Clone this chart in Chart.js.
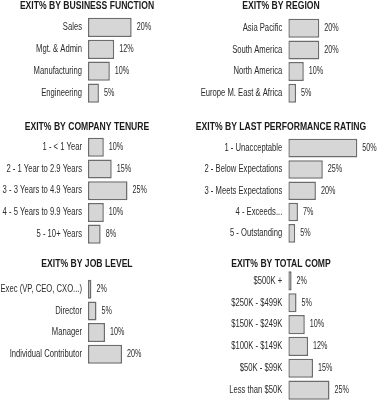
<!DOCTYPE html>
<html>
<head>
<meta charset="utf-8">
<script src="https://cdn.jsdelivr.net/npm/chart.js@4/dist/chart.umd.min.js"></script>
<style>
  html, body { margin: 0; padding: 0; background: #ffffff; overflow: hidden; }
  body { width: 378px; height: 400px; position: relative; }
  canvas { position: absolute; }
</style>
</head>
<body>
<canvas id="c1"></canvas>
<canvas id="c2"></canvas>
<canvas id="c3"></canvas>
<canvas id="c4"></canvas>
<canvas id="c5"></canvas>
<canvas id="c6"></canvas>
<script>
// ---- data ----
const businessTitle = 'EXIT% BY BUSINESS FUNCTION';
const businessCats = ['Sales', 'Mgt. & Admin', 'Manufacturing', 'Engineering'];
const businessVals = [20, 12, 10, 5];

const regionTitle = 'EXIT% BY REGION';
const regionCats = ['Asia Pacific', 'South America', 'North America', 'Europe M. East & Africa'];
const regionVals = [20, 20, 10, 5];

const tenureTitle = 'EXIT% BY COMPANY TENURE';
const tenureCats = ['1 - < 1 Year', '2 - 1 Year to 2.9 Years', '3 - 3 Years to 4.9 Years', '4 - 5 Years to 9.9 Years', '5 - 10+ Years'];
const tenureVals = [10, 15, 25, 10, 8];

const ratingTitle = 'EXIT% BY LAST PERFORMANCE RATING';
const ratingCats = ['1 - Unacceptable', '2 - Below Expectations', '3 - Meets Expectations', '4 - Exceeds...', '5 - Outstanding'];
const ratingVals = [50, 25, 20, 7, 5];

const jobTitle = 'EXIT% BY JOB LEVEL';
const jobCats = ['Exec (VP, CEO, CXO...)', 'Director', 'Manager', 'Individual Contributor'];
const jobVals = [2, 5, 10, 20];

const compTitle = 'EXIT% BY TOTAL COMP';
const compCats = ['$500K +', '$250K - $499K', '$150K - $249K', '$100K - $149K', '$50K - $99K', 'Less than $50K'];
const compVals = [2, 5, 10, 12, 15, 25];

// ---- layout (positions / sizes only) ----
const panels = [
  { id: 'c1', title: businessTitle, cats: businessCats, vals: businessVals, left: 0,   top: -0.5,  width: 174, gap: 4.5, area: 87,    axisW: 88,    xMax: 39.4 },
  { id: 'c2', title: regionTitle,   cats: regionCats,   vals: regionVals,   left: 184, top: -0.5,  width: 194, gap: 5.5, area: 86,    axisW: 104.3, xMax: 57.9 },
  { id: 'c3', title: tenureTitle,   cats: tenureCats,   vals: tenureVals,   left: 0,   top: 120.7, width: 174, gap: 3.3, area: 108.8, axisW: 88,    xMax: 54.4 },
  { id: 'c4', title: ratingTitle,   cats: ratingCats,   vals: ratingVals,   left: 184, top: 120.7, width: 194, gap: 4.5, area: 106.5, axisW: 104.3, xMax: 65 },
  { id: 'c5', title: jobTitle,      cats: jobCats,      vals: jobVals,      left: 0,   top: 258,   width: 174, gap: 8.5, area: 86.8,  axisW: 88,    xMax: 50.6 },
  { id: 'c6', title: compTitle,     cats: compCats,     vals: compVals,     left: 184, top: 258,   width: 194, gap: 0,   area: 131,   axisW: 104.3, xMax: 54.4 }
];

const FONT_FAMILY = "'Liberation Sans', Arial, Helvetica, sans-serif";
const TEXT_COLOR = '#2b2b2b';
const LABEL_SQUEEZE = 0.765;  // emulate a condensed typeface
const TITLE_SQUEEZE = 0.835;
const VALUE_SQUEEZE = 0.72;

// Draw text horizontally condensed around its anchor point.
const condensedText = {
  id: 'condensedText',
  beforeInit(chart) {
    const ctx = chart.ctx;
    const orig = ctx.fillText.bind(ctx);
    ctx.fillText = function (text, x, y, maxWidth) {
      let k = /bold/.test(ctx.font) ? TITLE_SQUEEZE : LABEL_SQUEEZE;
      if (ctx.__squeeze) k = ctx.__squeeze;
      ctx.save();
      ctx.translate(x, y);
      ctx.scale(k, 1);
      if (maxWidth !== undefined) orig(text, 0, 0, maxWidth / k);
      else orig(text, 0, 0);
      ctx.restore();
    };
  }
};

const valueLabels = {
  id: 'valueLabels',
  afterDatasetsDraw(chart) {
    const ctx = chart.ctx;
    const meta = chart.getDatasetMeta(0);
    const data = chart.data.datasets[0].data;
    ctx.save();
    ctx.__squeeze = VALUE_SQUEEZE;
    ctx.font = '10px ' + FONT_FAMILY;
    ctx.fillStyle = TEXT_COLOR;
    ctx.textAlign = 'left';
    ctx.textBaseline = 'middle';
    meta.data.forEach((bar, i) => {
      ctx.fillText(data[i] + '%', bar.x + 5, bar.y);
    });
    ctx.__squeeze = null;
    ctx.restore();
  }
};

panels.forEach(p => {
  const cv = document.getElementById(p.id);
  const h = Math.round(12 + p.gap + p.area);
  cv.width = p.width;
  cv.height = h;
  cv.style.left = p.left + 'px';
  cv.style.top = p.top + 'px';
  cv.style.width = p.width + 'px';
  cv.style.height = h + 'px';

  new Chart(cv, {
    type: 'bar',
    data: {
      labels: p.cats,
      datasets: [{
        data: p.vals,
        backgroundColor: '#d6d6d6',
        borderColor: '#6c6c6c',
        borderWidth: 1.5,
        borderSkipped: false,
        barPercentage: 0.875,
        categoryPercentage: 1
      }]
    },
    options: {
      indexAxis: 'y',
      responsive: false,
      animation: false,
      devicePixelRatio: 1,
      layout: { padding: 0 },
      plugins: {
        legend: { display: false },
        tooltip: { enabled: false },
        title: {
          display: true,
          text: p.title,
          color: '#1a1a1a',
          font: { family: FONT_FAMILY, size: 10.3, weight: 'bold', lineHeight: '12px' },
          padding: { top: 0, bottom: p.gap }
        }
      },
      scales: {
        x: { display: false, min: 0, max: p.xMax },
        y: {
          type: 'category',
          offset: true,
          grid: { display: false, drawTicks: false },
          border: { display: false },
          ticks: {
            color: TEXT_COLOR,
            padding: 6,
            font: { family: FONT_FAMILY, size: 10 },
            autoSkip: false
          },
          afterFit(scale) {
            scale.width = p.axisW;
            scale.paddingTop = 0;
            scale.paddingBottom = 0;
          }
        }
      }
    },
    plugins: [condensedText, valueLabels]
  });
});
</script>
</body>
</html>
